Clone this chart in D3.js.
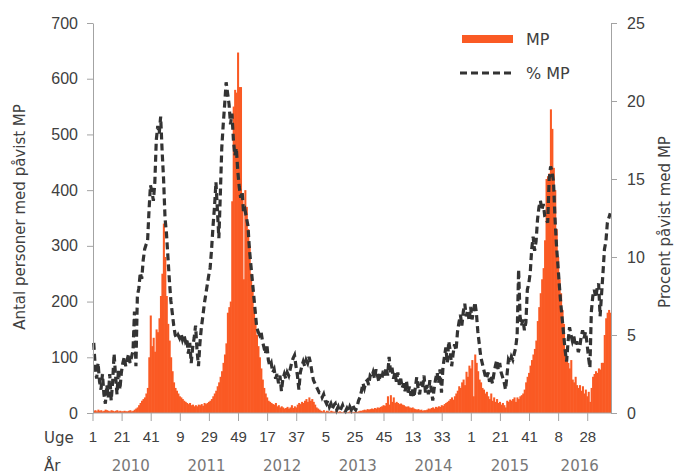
<!DOCTYPE html>
<html>
<head>
<meta charset="utf-8">
<script src="https://cdn.jsdelivr.net/npm/d3@7"></script>
<style>
  body { margin: 0; background: #fff; }
  svg { display: block; font-family: "DejaVu Sans", Verdana, sans-serif; }
</style>
</head>
<body>
<svg id="chart" width="674" height="475"></svg>
<script>
const years = ['2010', '2011', '2012', '2013', '2014', '2015', '2016']

// antal personer med påvist MP, per uge
const mp2010 = [4, 5, 3, 6, 4, 5, 3, 4, 6, 5, 4, 3, 5, 4, 3, 4, 5, 3, 4, 3, 3, 4, 3, 3, 4, 5,
  3, 4, 6, 8, 10, 14, 18, 22, 25, 28, 35, 45, 100, 175, 120, 135, 110, 150, 145, 170, 210, 250, 340, 280, 210, 160]
const mp2011 = [130, 100, 75, 55, 45, 40, 35, 30, 28, 25, 22, 20, 18, 16, 18, 14, 15, 12, 14, 12,
  15, 14, 16, 13, 18, 16, 18, 20, 22, 25, 30, 35, 40, 48, 55, 65, 75, 90, 105, 125,
  180, 190, 200, 380, 550, 580, 575, 647, 585, 585, 395, 240]
const mp2012 = [400, 370, 330, 300, 250, 220, 190, 170, 140, 120, 100, 80, 60, 45, 35, 28, 22, 20, 18, 16,
  15, 18, 12, 14, 10, 12, 10, 8, 9, 11, 8, 10, 14, 9, 12, 10, 15, 18, 16, 20,
  18, 22, 25, 20, 28, 22, 25, 20, 15, 10, 8, 6]
const mp2013 = [4, 3, 5, 2, 4, 3, 2, 4, 3, 2, 3, 4, 2, 3, 2, 1, 3, 2, 1, 2, 3, 2, 1, 2, 3, 2, 3, 4,
  4, 5, 6, 5, 7, 6, 7, 8, 7, 9, 8, 10, 9, 11, 12, 14, 13, 18, 30, 15, 32, 20, 28, 18]
const mp2014 = [20, 18, 16, 17, 15, 14, 12, 11, 12, 10, 9, 10, 8, 7, 6, 7, 5, 6, 4, 5,
  5, 6, 8, 7, 9, 10, 8, 11, 10, 12, 11, 14, 13, 16, 18, 20, 22, 25, 28, 24,
  30, 35, 40, 48, 45, 55, 60, 50, 74, 65, 85, 80]
const mp2015 = [95, 30, 105, 90, 75, 60, 55, 45, 42, 35, 38, 30, 25, 35, 22, 28, 20, 25, 18, 20,
  15, 18, 14, 10, 22, 20, 24, 22, 25, 28, 20, 28, 25, 30, 32, 35, 42, 55, 65, 72,
  85, 95, 105, 115, 130, 165, 190, 215, 240, 260, 310, 420, 425]
const mp2016 = [430, 545, 510, 440, 400, 330, 280, 240, 215, 185, 160, 115, 100, 90, 80, 95, 60, 55, 65, 50,
  45, 50, 40, 48, 35, 42, 30, 38, 20, 45, 65, 70, 75, 72, 80, 78, 90, 90, 140, 170,
  180, 185, 180]

// procent påvist med MP, per uge
const pct2010 = [4.5, 3.0, 2.2, 3.2, 2.0, 1.5, 2.5, 1.2, 0.6, 1.8, 1.0, 2.5, 0.8, 2.0, 3.8, 2.4, 1.2, 2.8, 1.5, 2.6,
  3.2, 3.6, 3.0, 3.4, 3.8, 3.2, 3.6, 4.0, 6.5, 3.0, 7.5, 8.0, 9.0, 8.6, 9.8, 10.5, 10.8, 11.0, 13.0, 14.6,
  14.2, 13.6, 14.8, 17.5, 18.4, 17.9, 19.0, 16.8, 15.0, 12.5, 11.5, 10.0]
const pct2011 = [8.5, 7.2, 6.4, 5.6, 5.0, 4.8, 5.0, 4.8, 5.1, 4.7, 5.0, 4.6, 4.8, 3.8, 4.5, 3.2, 4.2, 4.8, 5.6, 4.0,
  3.0, 4.5, 5.5, 6.2, 7.0, 7.6, 8.2, 8.8, 9.3, 10.5, 12.0, 13.2, 14.8, 13.0, 11.2, 14.0, 17.0, 18.5, 19.8, 21.2,
  20.5, 19.8, 18.5, 19.2, 17.5, 16.5, 17.0, 15.5, 14.5, 13.8, 14.2, 12.8]
const pct2012 = [13.0, 12.5, 12.0, 10.5, 9.5, 8.5, 7.5, 6.5, 5.5, 5.2, 5.0, 5.2, 4.6, 4.2, 3.8, 4.4, 3.4, 3.0, 3.2, 2.6,
  2.8, 2.2, 2.5, 1.9, 2.4, 1.4, 2.2, 2.5, 2.2, 2.6, 2.4, 2.8, 3.2, 3.5, 3.7, 3.0, 2.4, 1.5, 2.6, 3.0,
  3.3, 3.0, 3.4, 3.2, 3.6, 3.2, 2.6, 2.1, 1.9, 1.7, 1.5, 1.3]
const pct2013 = [1.3, 1.0, 1.2, 0.8, 0.6, 0.8, 0.4, 0.6, 0.3, 0.5, 0.6, 0.2, 0.4, 0.1, 0.3, 0.5, 0.2, 0.1, 0.3, 0.1,
  0.4, 0.2, 0.5, 0.3, 0.2, 0.4, 0.8, 1.0, 1.4, 1.9, 1.6, 2.0, 2.1, 1.8, 2.4, 2.3, 2.6, 2.2, 2.8, 2.4,
  2.0, 2.5, 2.2, 2.7, 2.4, 2.9, 2.4, 3.6, 2.6, 2.9, 2.2, 2.6]
const pct2014 = [2.0, 2.6, 1.8, 2.2, 1.6, 1.9, 1.4, 2.0, 1.3, 1.7, 1.1, 1.5, 1.0, 1.6, 2.3, 1.5, 1.2, 2.0, 1.6, 2.4,
  1.3, 1.8, 1.2, 2.1, 1.5, 0.8, 1.6, 2.2, 2.6, 1.9, 2.8, 1.3, 2.9, 3.6, 4.2, 3.2, 4.6, 4.0, 3.0, 3.8,
  4.4, 4.0, 5.2, 5.8, 6.3, 5.6, 6.5, 7.0, 6.2, 6.6, 5.9, 6.8]
const pct2015 = [6.0, 6.5, 7.1, 6.4, 5.2, 4.4, 3.6, 3.2, 2.8, 2.4, 2.2, 2.6, 2.0, 2.4, 1.9, 2.5, 3.0, 3.4, 2.8, 3.2,
  2.6, 2.3, 2.0, 1.5, 2.4, 3.4, 3.2, 3.6, 3.4, 3.8, 4.2, 5.0, 9.2, 6.2, 5.6, 6.0, 5.3, 5.8, 7.9, 8.3,
  9.0, 10.5, 11.3, 10.4, 11.0, 12.4, 13.2, 13.6, 13.0, 13.4, 12.6, 12.4, 12.2]
const pct2016 = [15.0, 15.8, 15.5, 14.8, 12.5, 10.8, 9.5, 8.2, 7.0, 6.0, 5.0, 4.0, 3.3, 4.6, 5.5, 5.0, 4.6, 4.9, 4.3, 4.6,
  3.9, 4.2, 4.9, 5.3, 4.8, 5.2, 4.5, 3.6, 2.9, 6.5, 7.5, 7.9, 7.4, 8.0, 8.3, 6.2, 7.6, 9.0, 10.5, 11.0,
  12.2, 12.5, 12.8]

const ugeTicks = ['1', '21', '41', '9', '29', '49', '17', '37', '5', '25', '45', '13', '33', '1', '21', '41', '8', '28']
const leftTicks = [0, 100, 200, 300, 400, 500, 600, 700]
const rightTicks = [0, 5, 10, 15, 20, 25]

const mpByYear = [mp2010, mp2011, mp2012, mp2013, mp2014, mp2015, mp2016]
const pctByYear = [pct2010, pct2011, pct2012, pct2013, pct2014, pct2015, pct2016]

// one row per week
const data = []
years.forEach((yr, yi) => {
  mpByYear[yi].forEach((v, wi) => {
    data.push({ key: yr + '-' + (wi + 1), year: yr, week: wi + 1, mp: v, pct: pctByYear[yi][wi] })
  })
})

const W = 674, H = 475
const margin = { top: 23, right: 63, bottom: 62, left: 93 }
const orange = '#fa5a24'
const axisColor = '#a3a3a3'
const textColor = '#404040'

const svg = d3.select('#chart')

const x = d3.scaleBand()
  .domain(data.map(d => d.key))
  .range([margin.left, W - margin.right])
  .padding(0)

const yL = d3.scaleLinear().domain([0, 700]).range([H - margin.bottom, margin.top])
const yR = d3.scaleLinear().domain([0, 25]).range([H - margin.bottom, margin.top])

// bars
svg.append('g')
  .selectAll('rect')
  .data(data)
  .enter()
  .append('rect')
  .attr('x', d => x(d.key))
  .attr('y', d => yL(d.mp))
  .attr('width', x.bandwidth() + 0.6)
  .attr('height', d => yL(0) - yL(d.mp))
  .attr('fill', orange)

// percent line
const line = d3.line()
  .x(d => x(d.key) + x.bandwidth() / 2)
  .y(d => yR(d.pct))

svg.append('path')
  .datum(data)
  .attr('d', line)
  .attr('fill', 'none')
  .attr('stroke', '#333')
  .attr('stroke-width', 3.2)
  .attr('stroke-dasharray', '7,4')

// axes
function styleAxis(g) {
  g.select('.domain').attr('stroke', axisColor)
  g.selectAll('.tick line').attr('stroke', axisColor)
  g.selectAll('.tick text').attr('fill', textColor).style('font-size', '15px')
}

svg.append('g')
  .attr('transform', `translate(${margin.left}, 0)`)
  .call(d3.axisLeft(yL).tickValues(leftTicks).tickSize(6).tickSizeOuter(0).tickPadding(9))
  .call(styleAxis)
  .selectAll('.tick text').style('font-size', '16px')

svg.append('g')
  .attr('transform', `translate(${W - margin.right}, 0)`)
  .call(d3.axisRight(yR).tickValues(rightTicks).tickSize(6).tickSizeOuter(0).tickPadding(10))
  .call(styleAxis)
  .selectAll('.tick text').style('font-size', '16px')

const tickKeys = ugeTicks.map((t, i) => data[i * 20].key)
const labelOf = {}
tickKeys.forEach((k, i) => { labelOf[k] = ugeTicks[i] })

const xAxis = d3.axisBottom(x)
  .tickValues(tickKeys)
  .tickFormat(k => labelOf[k])
  .tickSize(8)
  .tickSizeOuter(0)
  .tickPadding(10)

const gx = svg.append('g')
  .attr('transform', `translate(0, ${H - margin.bottom})`)
  .call(xAxis)
  .call(styleAxis)
// ticks at the start of the week band
gx.selectAll('.tick').attr('transform', k => `translate(${x(k)}, 0)`)
gx.select('.domain').attr('d', `M${margin.left},0H${W - margin.right}`)

svg.append('text')
  .attr('x', 44).attr('y', 443)
  .attr('fill', textColor)
  .style('font-size', '15px')
  .text('Uge')

svg.append('text')
  .attr('x', 44).attr('y', 471)
  .attr('fill', textColor)
  .style('font-size', '15px')
  .text('År')

// year labels centred on each year's weeks
svg.append('g')
  .selectAll('text')
  .data(years)
  .enter()
  .append('text')
  .attr('x', yr => {
    const wk = data.filter(d => d.year === yr)
    return (x(wk[0].key) + x(wk[wk.length - 1].key) + x.bandwidth()) / 2
  })
  .attr('y', 471)
  .attr('text-anchor', 'middle')
  .attr('fill', '#777')
  .style('font-size', '15px')
  .text(yr => yr)

// axis titles
svg.append('text')
  .attr('transform', 'translate(25, 217) rotate(-90)')
  .attr('text-anchor', 'middle')
  .attr('fill', textColor)
  .style('font-size', '15px')
  .text('Antal personer med påvist MP')

svg.append('text')
  .attr('transform', 'translate(670, 222) rotate(-90)')
  .attr('text-anchor', 'middle')
  .attr('fill', textColor)
  .style('font-size', '15px')
  .text('Procent påvist med MP')

// legend
const legend = svg.append('g')
legend.append('rect')
  .attr('x', 462).attr('y', 35)
  .attr('width', 51).attr('height', 8)
  .attr('fill', orange)
legend.append('text')
  .attr('x', 526).attr('y', 45)
  .attr('fill', textColor)
  .style('font-size', '16px')
  .text('MP')
legend.append('line')
  .attr('x1', 460).attr('x2', 513)
  .attr('y1', 73).attr('y2', 73)
  .attr('stroke', '#333')
  .attr('stroke-width', 3.2)
  .attr('stroke-dasharray', '7,4')
legend.append('text')
  .attr('x', 526).attr('y', 79)
  .attr('fill', textColor)
  .style('font-size', '16px')
  .text('% MP')
</script>
</body>
</html>
